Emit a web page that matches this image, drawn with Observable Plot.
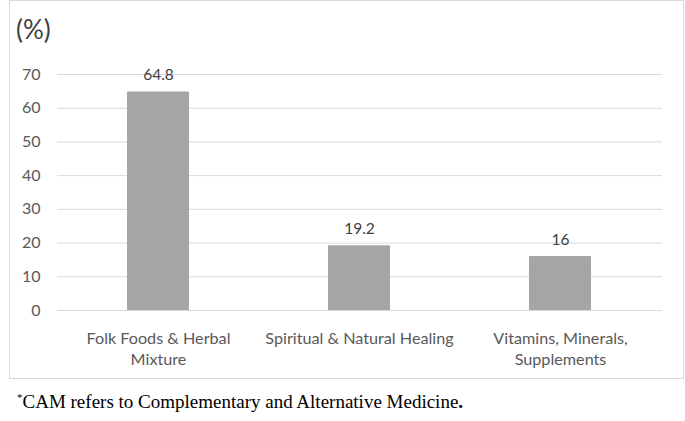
<!DOCTYPE html>
<html>
<head>
<meta charset="utf-8">
<script src="https://cdn.jsdelivr.net/npm/d3@7"></script>
<script src="https://cdn.jsdelivr.net/npm/@observablehq/plot@0.6"></script>
<style>
  body { margin: 0; background: #fff; }
  #wrap { position: relative; width: 685px; height: 421px; overflow: hidden; font-family: Lato, "Open Sans", sans-serif; }
  #box { position: absolute; left: 9px; top: 0px; width: 675px; height: 379px; border: 1px solid #d9d9d9; box-sizing: border-box; }
  #unit { position: absolute; left: 16px; top: 14px; font-size: 26px; color: #404040; line-height: 1.2; }
  #plot { position: absolute; left: 0; top: 0; }
  #note { position: absolute; left: 17px; top: 391px; font-family: "Liberation Serif", "DejaVu Serif", serif; font-size: 19px; line-height: 1.15; color: #000; white-space: nowrap; }
  #note sup { font-size: 11px; vertical-align: 7px; }
</style>
</head>
<body>
<div id="wrap">
  <div id="box"></div>
  <div id="unit">(%)</div>
  <div id="plot"></div>
  <div id="note"><sup>*</sup>CAM refers to Complementary and Alternative Medicine<b>.</b></div>
</div>
<script>
const categories = ["Folk Foods & Herbal\nMixture", "Spiritual & Natural Healing", "Vitamins, Minerals,\nSupplements"];
const values = [64.8, 19.2, 16];
const yTicks = [0, 10, 20, 30, 40, 50, 60, 70];

const data = categories.map((c, i) => ({category: c, value: values[i]}));

const chart = Plot.plot({
  width: 685,
  height: 378,
  marginLeft: 57,
  marginRight: 23,
  marginTop: 74,
  marginBottom: 68,
  style: {fontFamily: "Lato, 'Open Sans', sans-serif", background: "transparent"},
  x: {domain: categories, paddingInner: 0.69, paddingOuter: 0.345, axis: null},
  y: {domain: [0, 70], axis: null},
  marks: [
    Plot.ruleY(yTicks, {stroke: "#d9d9d9", strokeWidth: 1}),
    Plot.barY(data, {x: "category", y: "value", fill: "#a5a5a5"}),
    Plot.text(data, {x: "category", y: "value", text: d => String(d.value), dy: -17, fontSize: 15.5, fill: "#404040"}),
    Plot.text(yTicks, {y: d => d, text: d => String(d), frameAnchor: "left", textAnchor: "end", dx: -17, fontSize: 16, fill: "#595959"}),
    Plot.text(data, {x: "category", text: "category", frameAnchor: "bottom", lineAnchor: "top", dy: 18.5, fontSize: 16.2, lineHeight: 1.3, fill: "#595959"})
  ]
});
document.getElementById("plot").appendChild(chart);
</script>
</body>
</html>
